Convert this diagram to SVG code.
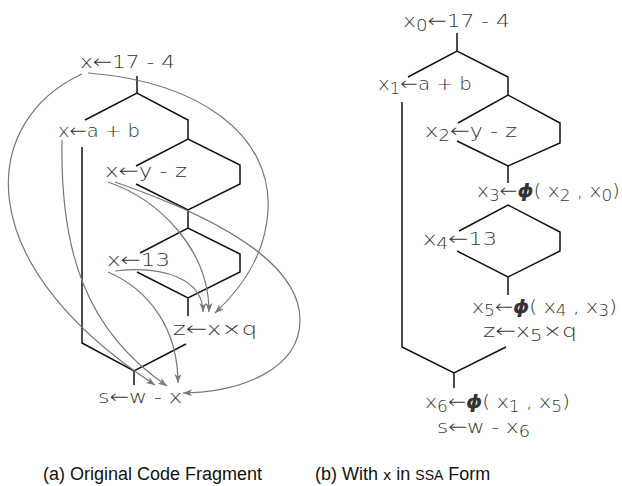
<svg xmlns="http://www.w3.org/2000/svg" width="622" height="486" viewBox="0 0 622 486">
<style>
.t{font-family:"DejaVu Sans",sans-serif;font-size:18px;fill:#333;font-weight:300}
.sub{font-size:15px}
.ar{font-size:19px}
.phi{font-style:italic;font-weight:bold}
.cap{font-family:"Liberation Sans",Arial,sans-serif;font-size:18px;fill:#111}
.cfg{fill:none;stroke:#111;stroke-width:1.5}
.du{fill:none;stroke:#777;stroke-width:1.2}
</style>
<defs>
<marker id="ah" markerUnits="userSpaceOnUse" markerWidth="10" markerHeight="8" refX="9" refY="3.5" orient="auto">
<path d="M0,0 L9,3.5 L0,7 L2.5,3.5 z" fill="#777"/>
</marker>
</defs>
<rect width="622" height="486" fill="#fff"/>
<g id="cfg-a">
<path class="cfg" d="M137,76 V93 M85,120 L137,93 L188,120 V139 M136,166 L188,139 L240,165 V184 L188,210 L136,184 M188,210 V228 M140,253 L188,228 L240,254 V272 L188,298 L137,272 M188,298 V316 M186,344 L134,371 L82,343 V147 M134,371 V385"/>
</g>
<g id="connectors">
<path class="du" d="M82,74 C-18,120 -36,260 155,385" marker-end="url(#ah)"/>
<path class="du" d="M62,140 C60,250 85,330 167,386" marker-end="url(#ah)"/>
<path class="du" d="M108,182 C160,200 209,250 209,312" marker-end="url(#ah)"/>
<path class="du" d="M115,182 C210,215 300,260 300,320 C300,370 240,392 183,393" marker-end="url(#ah)"/>
<path class="du" d="M88,73 C200,82 272,135 268,210 C266,250 245,285 215,313" marker-end="url(#ah)"/>
<path class="du" d="M115,271 C165,265 203,280 203,312" marker-end="url(#ah)"/>
<path class="du" d="M108,272 C150,290 178,330 178,383" marker-end="url(#ah)"/>
</g>
<g id="n-a1"><text class="t" x="80" y="68" textLength="95" lengthAdjust="spacingAndGlyphs">x<tspan class="ar">←</tspan>17 - 4</text></g>
<g id="n-a2"><text class="t" x="58" y="137" textLength="82" lengthAdjust="spacingAndGlyphs">x<tspan class="ar">←</tspan>a + b</text></g>
<g id="n-a3"><text class="t" x="105" y="177" textLength="82" lengthAdjust="spacingAndGlyphs">x<tspan class="ar">←</tspan>y - z</text></g>
<g id="n-a4"><text class="t" x="107" y="266" textLength="63" lengthAdjust="spacingAndGlyphs">x<tspan class="ar">←</tspan>13</text></g>
<g id="n-a5"><text class="t" x="173" y="335" textLength="84" lengthAdjust="spacingAndGlyphs">z<tspan class="ar">←</tspan>x×q</text></g>
<g id="n-a6"><text class="t" x="98" y="403" textLength="84" lengthAdjust="spacingAndGlyphs">s<tspan class="ar">←</tspan>w - x</text></g>
<g id="cfg-b">
<path class="cfg" d="M457,33 V51 M408,77 L457,51 L508,77 V95 M458,123 L508,95 L560,123 V143 L508,166 L457,141 M508,166 V183 M459,231 L508,205 L560,232 V251 L508,277 L457,251 M508,277 V295 M506,347 L454,373 L402,347 V102 M454,373 V388"/>
</g>
<g id="n-b1"><text class="t" x="403" y="27" textLength="107" lengthAdjust="spacingAndGlyphs">x<tspan class="sub" dy="4">0</tspan><tspan class="ar" dy="-4">←</tspan>17 - 4</text></g>
<g id="n-b2"><text class="t" x="378" y="90" textLength="94" lengthAdjust="spacingAndGlyphs">x<tspan class="sub" dy="4">1</tspan><tspan class="ar" dy="-4">←</tspan>a + b</text></g>
<g id="n-b3"><text class="t" x="425" y="137" textLength="92" lengthAdjust="spacingAndGlyphs">x<tspan class="sub" dy="4">2</tspan><tspan class="ar" dy="-4">←</tspan>y - z</text></g>
<g id="n-b4"><text class="t" x="477" y="197" textLength="143" lengthAdjust="spacingAndGlyphs">x<tspan class="sub" dy="4">3</tspan><tspan class="ar" dy="-4">←</tspan><tspan class="phi">ϕ</tspan>( x<tspan class="sub" dy="4">2</tspan><tspan dy="-4"> , x</tspan><tspan class="sub" dy="4">0</tspan><tspan dy="-4">)</tspan></text></g>
<g id="n-b5"><text class="t" x="423" y="245" textLength="74" lengthAdjust="spacingAndGlyphs">x<tspan class="sub" dy="4">4</tspan><tspan class="ar" dy="-4">←</tspan>13</text></g>
<g id="n-b6"><text class="t" x="472" y="313" textLength="145" lengthAdjust="spacingAndGlyphs">x<tspan class="sub" dy="3">5</tspan><tspan class="ar" dy="-3">←</tspan><tspan class="phi">ϕ</tspan>( x<tspan class="sub" dy="3">4</tspan><tspan dy="-3"> , x</tspan><tspan class="sub" dy="3">3</tspan><tspan dy="-3">)</tspan></text>
<text class="t" x="483" y="337" textLength="94" lengthAdjust="spacingAndGlyphs">z<tspan class="ar">←</tspan>x<tspan class="sub" dy="4">5</tspan><tspan dy="-4">×q</tspan></text></g>
<g id="n-b7"><text class="t" x="425" y="408" textLength="145" lengthAdjust="spacingAndGlyphs">x<tspan class="sub" dy="4">6</tspan><tspan class="ar" dy="-4">←</tspan><tspan class="phi">ϕ</tspan>( x<tspan class="sub" dy="4">1</tspan><tspan dy="-4"> , x</tspan><tspan class="sub" dy="4">5</tspan><tspan dy="-4">)</tspan></text>
<text class="t" x="437" y="433" textLength="93" lengthAdjust="spacingAndGlyphs">s<tspan class="ar">←</tspan>w - x<tspan class="sub" dy="4">6</tspan></text></g>
<g id="captions">
<text class="cap" x="43" y="480">(a) Original Code Fragment</text>
<text class="cap" x="315" y="480">(b) With <tspan font-family="DejaVu Sans,sans-serif" font-size="14">x</tspan> in <tspan font-size="14">SSA</tspan> Form</text>
</g>
</svg>
